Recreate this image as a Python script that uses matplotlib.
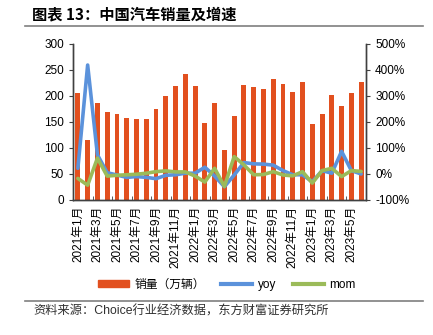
import matplotlib.pyplot as plt
import numpy as np
from matplotlib.lines import Line2D
from matplotlib.patches import Patch

plt.rcParams['font.family'] = ['Liberation Sans', 'Noto Sans CJK SC', 'DejaVu Sans']

months = ['2021年%d月' % m for m in range(1, 13)] + \
         ['2022年%d月' % m for m in range(1, 13)] + \
         ['2023年%d月' % m for m in range(1, 7)]

sales = [205, 115, 187, 170, 165, 157, 155, 155, 175, 200, 219, 242,
         219, 149, 186, 96, 162, 222, 217, 213, 233, 223, 207, 226,
         146, 165, 201, 181, 205, 226]

yoy = [22, 419, 74, 5, -4, -13, -10, -13, -18, -5, -3, 3,
       3, 26, -8, -49, -4, 44, 39, 38, 34, 13, -3, -3,
       -30, 13, 3, 87, 13, 0]

mom = [-17, -43, 61, -8, -5, -3, -1, 3, 9, 12, 8, 8,
       -8, -31, 22, -48, 67, 35, -3, -2, 9, -4, -7, 9,
       -35, 13, 22, -10, 13, 10]

BAR_COLOR = '#E2501F'
YOY_COLOR = '#5B92DB'
MOM_COLOR = '#9BBB59'

fig = plt.figure(figsize=(4.33, 3.35), dpi=100)
ax1 = fig.add_axes([0.1686, 0.403, 0.6767, 0.4657])
ax2 = ax1.twinx()

x = np.arange(len(sales))
ax1.bar(x, sales, width=0.5, color=BAR_COLOR, zorder=2)
ax1.set_xlim(-0.5, len(sales) - 0.5)
ax1.set_ylim(0, 300)
ax1.set_yticks(range(0, 301, 50))

ax2.plot(x, yoy, color=YOY_COLOR, lw=2.6, solid_joinstyle='round', solid_capstyle='round')
ax2.plot(x, mom, color=MOM_COLOR, lw=2.6, solid_joinstyle='round', solid_capstyle='round')
ax2.set_ylim(-100, 500)
ax2.set_yticks(range(-100, 501, 100))
ax2.set_yticklabels(['%d%%' % v for v in range(-100, 501, 100)])

ax1.set_xticks(x[::2])
ax1.set_xticklabels(months[::2], rotation=90, fontsize=8.5)
ax1.set_xticks(np.arange(-0.5, len(sales), 2), minor=True)
ax1.tick_params(axis='x', which='major', length=0, pad=4)
ax1.tick_params(axis='x', which='minor', direction='in', length=3, color='#404040')
ax1.tick_params(axis='y', labelsize=8.5, length=3, direction='out', color='#404040')
ax2.tick_params(axis='y', labelsize=8.5, length=3, direction='out', color='#404040')

for ax in (ax1, ax2):
    ax.spines['top'].set_visible(False)
    for s in ('left', 'right', 'bottom'):
        ax.spines[s].set_color('#404040')
        ax.spines[s].set_linewidth(1.0)

handles = [Patch(color=BAR_COLOR),
           Line2D([], [], color=YOY_COLOR, lw=3),
           Line2D([], [], color=MOM_COLOR, lw=3)]
fig.legend(handles, ['销量（万辆）', 'yoy', 'mom'], loc='center',
           bbox_to_anchor=(0.524, 0.150), ncol=3, frameon=False, fontsize=8.5,
           handlelength=2.6, handleheight=0.5, columnspacing=1.4, handletextpad=0.5)

fig.text(0.074, 0.958, '图表 13：中国汽车销量及增速', fontsize=11, fontweight='bold',
         va='center', ha='left', family=['Noto Sans CJK SC', 'DejaVu Sans'])
fig.add_artist(Line2D([0.058, 0.977], [0.922, 0.922], color='#7F7F7F', lw=1.2,
                      transform=fig.transFigure))
fig.add_artist(Line2D([0.058, 0.977], [0.101, 0.101], color='#7F7F7F', lw=1.2,
                      transform=fig.transFigure))
fig.text(0.078, 0.07, '资料来源：Choice行业经济数据，东方财富证券研究所', fontsize=8.8,
         va='center', ha='left', color='#303030')

plt.savefig('out.png', dpi=100)
